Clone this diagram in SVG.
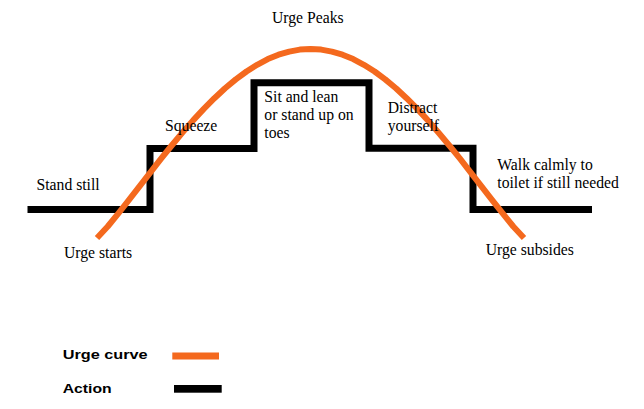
<svg xmlns="http://www.w3.org/2000/svg" width="644" height="409" viewBox="0 0 644 409">
<style>
.lbl{font-size:15.7px;fill:#000}
.leg{font-weight:bold;font-size:13.5px;fill:#000}
.action{fill:none;stroke:#000;stroke-width:7;stroke-linejoin:miter}
.urge{fill:none;stroke:#F4691E;stroke-width:6;stroke-linejoin:round}
</style>
<rect width="644" height="409" fill="#fff"/>
<g id="connectors">
<path id="action-line" class="action" d="M27.5,209.5 H150 V148.5 H254 V82.7 H369 V148.3 H473 V209.5 H592"/>
<polyline id="urge-curve" class="urge" points="97,238 107.7,226.5 118.4,213.4 129,199.9 139.7,186.1 150.4,172.3 161.1,158.7 171.7,145.5 182.4,132.7 193.1,120.4 203.8,108.9 214.4,98.2 225.1,88.3 235.8,79.4 246.5,71.5 257.1,64.8 267.8,59.1 278.5,54.7 289.2,51.6 299.8,49.6 310.5,49 321.2,49.6 331.9,51.6 342.5,54.7 353.2,59.1 363.9,64.8 374.6,71.5 385.2,79.4 395.9,88.3 406.6,98.2 417.3,108.9 427.9,120.4 438.6,132.7 449.3,145.5 460,158.7 470.6,172.3 481.3,186.1 492,199.9 502.7,213.4 513.3,226.5 524,238"/>
</g>
<g font-family="'Liberation Serif', 'Times New Roman', 'DejaVu Serif', serif">
<g id="urge-peaks"><text class="lbl" x="272" y="23">Urge Peaks</text></g>
<g id="stand-still"><text class="lbl" x="36.5" y="190">Stand still</text></g>
<g id="urge-starts"><text class="lbl" x="64" y="257.5">Urge starts</text></g>
<g id="squeeze"><text class="lbl" x="165" y="130.5">Squeeze</text></g>
<g id="sit-lean"><text class="lbl" x="264.3" y="101.5">Sit and lean</text><text class="lbl" x="264.3" y="120">or stand up on</text><text class="lbl" x="264.3" y="138.3">toes</text></g>
<g id="distract"><text class="lbl" x="387.7" y="113.3">Distract</text><text class="lbl" x="387.7" y="131">yourself</text></g>
<g id="walk-calmly"><text class="lbl" x="497.3" y="170">Walk calmly to</text><text class="lbl" x="497.3" y="188.3">toilet if still needed</text></g>
<g id="urge-subsides"><text class="lbl" x="485.7" y="254.5">Urge subsides</text></g>
</g>
<g id="legend" font-family="'Liberation Sans', Arial, sans-serif">
<text class="leg" x="62.7" y="359.3" textLength="85" lengthAdjust="spacingAndGlyphs">Urge curve</text>
<rect x="172.3" y="352.5" width="46.7" height="7" fill="#F4691E"/>
<text class="leg" x="62.7" y="393" textLength="49" lengthAdjust="spacingAndGlyphs">Action</text>
<rect x="174" y="385" width="47.7" height="7.7" fill="#000"/>
</g>
</svg>
